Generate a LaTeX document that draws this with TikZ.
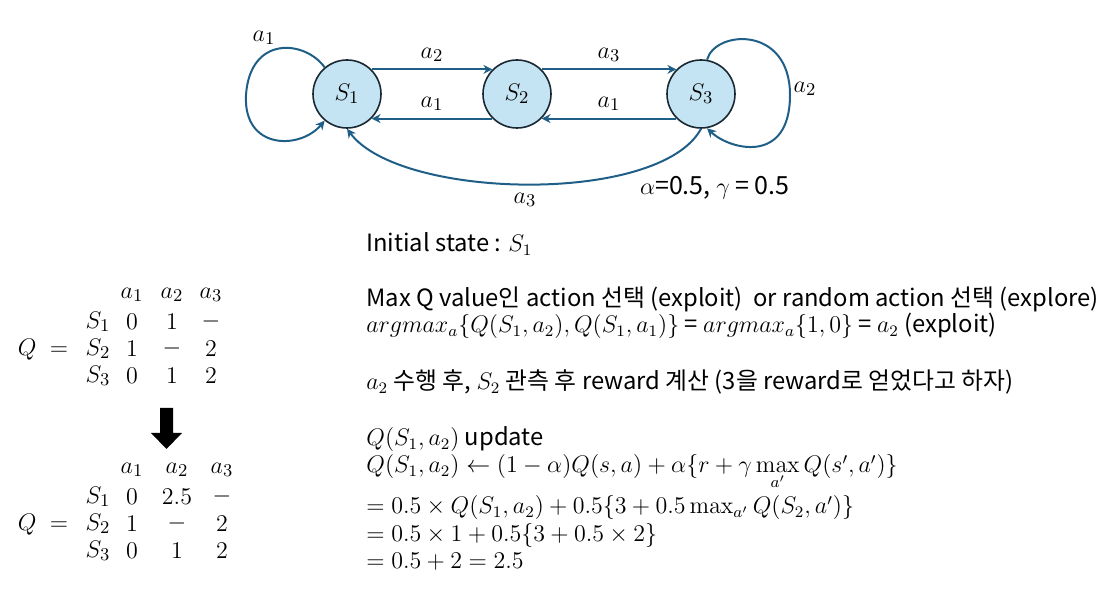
\documentclass[tikz,border=0pt]{standalone}
\usepackage[no-math]{fontspec}
\setmainfont{Noto Sans CJK KR}
\usetikzlibrary{arrows.meta,matrix}
\definecolor{edgeblue}{RGB}{31,95,135}
\definecolor{statefill}{RGB}{197,228,243}
\definecolor{stateline}{RGB}{25,40,50}
\begin{document}
\begin{tikzpicture}[
x=0.5pt, y=-0.5pt,
state/.style={circle, draw=stateline, line width=0.8pt, fill=statefill, minimum size=34pt, inner sep=0pt, font=\fontsize{13}{15}\selectfont},
edge/.style={draw=edgeblue, line width=1pt, -{Stealth[length=4.5pt,width=4.5pt]}},
elbl/.style={font=\fontsize{12.5}{14}\selectfont},
line/.style={anchor=base west, inner sep=0pt, font=\fontsize{11.9}{14}\selectfont},
qmat/.style={matrix of math nodes, nodes={minimum width=17pt, minimum height=11.5pt, inner sep=0pt, anchor=center, font=\fontsize{12.5}{14}\selectfont}, column sep=0pt, row sep=2pt}
]
\useasboundingbox (0,0) rectangle (1109,592);

% states
\node[state] (s1) at (347,94) {$S_1$};
\node[state] (s2) at (517,94) {$S_2$};
\node[state] (s3) at (701,94) {$S_3$};

% transitions
\draw[edge] (s1.45) -- node[above, elbl] (l12) {$a_2$} (s2.135);
\draw[edge] (s2.45) -- node[above, elbl] (l23) {$a_3$} (s3.135);
\draw[edge] (s2.225) -- node[above, elbl] (l21) {$a_1$} (s1.315);
\draw[edge] (s3.225) -- node[above, elbl] (l32) {$a_1$} (s2.315);
\draw[edge] (s1.130) .. controls (305,40) and (250,35) .. (246,95)
  .. controls (243,150) and (300,150) .. (s1.230);
\node[elbl] (l11) at (264,38) {$a_1$};
\draw[edge] (s3.80) .. controls (715,30) and (790,25) .. (790,95)
  .. controls (790,165) and (730,150) .. (s3.280);
\node[elbl] (l33) at (805,89) {$a_2$};
\draw[edge] (s3.south) .. controls (660,205) and (400,200) .. (s1.south);
\node[elbl] (l31) at (525,200) {$a_3$};
\node[elbl, anchor=west] (param) at (633,188) {$\alpha$=0.5, $\gamma$ = 0.5};

% Q tables
\node[font=\fontsize{12.5}{14}\selectfont] (qeq1) at (43,350) {$Q\;=$};
\matrix (qbefore) [qmat, column 3/.style={nodes={minimum width=23pt}}, column 4/.style={nodes={minimum width=16pt}}] at (154,335.5) {
      & a_1 & a_2 & a_3 \\
  S_1 & 0   & 1   & -   \\
  S_2 & 1   & -   & 2   \\
  S_3 & 0   & 1   & 2   \\
};
\fill (160,408) -- (173,408) -- (173,433) -- (182,433) -- (166.5,449) -- (151,433) -- (160,433) -- cycle;
\node[font=\fontsize{12.5}{14}\selectfont] (qeq2) at (43,525) {$Q\;=$};
\matrix (qafter) [qmat, column 3/.style={nodes={minimum width=28pt}}] at (160,510.5) {
      & a_1 & a_2 & a_3 \\
  S_1 & 0   & 2.5 & -   \\
  S_2 & 1   & -   & 2   \\
  S_3 & 0   & 1   & 2   \\
};

% worked example
\node[line] (t1) at (366,252) {Initial state : $S_1$};
\node[line] (t2) at (366,307) {Max Q value인 action 선택 (exploit)\ \ or random action 선택 (explore)};
\node[line] (t3) at (366,333) {$argmax_a\{Q(S_1,a_2),Q(S_1,a_1)\}$ = $argmax_a\{1,0\}$ = $a_2$ (exploit)};
\node[line] (t4) at (366,390) {$a_2$ 수행 후, $S_2$ 관측 후 reward 계산 (3을 reward로 얻었다고 하자)};
\node[line] (t5) at (366,446) {$Q(S_1,a_2)$ update};
\node[line] (t6) at (366,473) {$Q(S_1,a_2)\leftarrow(1-\alpha)Q(s,a)+\alpha\{r+\gamma\max\limits_{a'}Q(s',a')\}$};
\node[line] (t7) at (366,514) {$=0.5\times Q(S_1,a_2)+0.5\{3+0.5\max\nolimits_{a'}Q(S_2,a')\}$};
\node[line] (t8) at (366,542) {$=0.5\times1+0.5\{3+0.5\times2\}$};
\node[line] (t9) at (366,569) {$=0.5+2=2.5$};
\end{tikzpicture}
\end{document}
